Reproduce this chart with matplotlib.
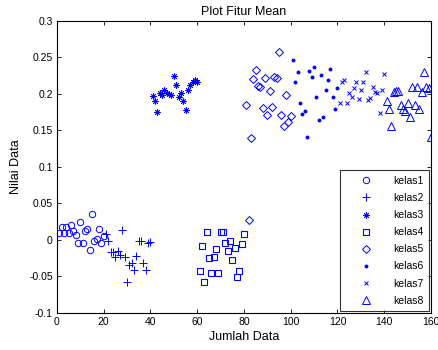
import numpy as np
import matplotlib
matplotlib.use("Agg")
import matplotlib.pyplot as plt

plt.rcParams['font.family'] = ['Liberation Sans', 'DejaVu Sans']

# nilai fitur mean per kelas (20 data per kelas, urut menurut nomor data)
kelas1 = [0.009, 0.018, 0.009, 0.018, 0.009, 0.021, 0.012, 0.007, -0.004, 0.024,
          -0.004, 0.012, 0.015, -0.014, 0.035, -0.002, 0.001, 0.015, -0.004, 0.005]
kelas2 = [0.008, -0.001, -0.016, -0.017, -0.023, -0.015, -0.021, 0.014, -0.023, -0.058,
          -0.034, -0.032, -0.041, -0.022, -0.002, -0.001, -0.032, -0.041, -0.004, -0.003]
kelas3 = [0.197, 0.190, 0.175, 0.201, 0.198, 0.205, 0.202, 0.200, 0.199, 0.224,
          0.212, 0.196, 0.201, 0.190, 0.178, 0.206, 0.212, 0.216, 0.219, 0.217]
kelas4 = [-0.043, -0.009, -0.058, 0.011, -0.025, -0.045, -0.023, -0.013, -0.046, 0.011,
          0.011, -0.004, -0.015, -0.001, -0.027, -0.011, -0.051, -0.043, -0.005, 0.008]
kelas5 = [0.185, 0.027, 0.140, 0.220, 0.233, 0.211, 0.209, 0.181, 0.222, 0.171,
          0.204, 0.182, 0.223, 0.222, 0.257, 0.171, 0.156, 0.199, 0.161, 0.170]
kelas6 = [0.246, 0.216, 0.230, 0.188, 0.172, 0.176, 0.141, 0.232, 0.223, 0.237,
          0.196, 0.164, 0.226, 0.169, 0.206, 0.219, 0.234, 0.196, 0.179, 0.208]
kelas7 = [0.187, 0.216, 0.219, 0.187, 0.202, 0.196, 0.208, 0.216, 0.193, 0.206,
          0.216, 0.230, 0.192, 0.194, 0.209, 0.203, 0.202, 0.174, 0.206, 0.228]
kelas8 = [0.190, 0.180, 0.156, 0.203, 0.204, 0.204, 0.185, 0.180, 0.177, 0.187,
          0.168, 0.209, 0.185, 0.209, 0.179, 0.203, 0.230, 0.209, 0.208, 0.141]

semua_kelas = [kelas1, kelas2, kelas3, kelas4, kelas5, kelas6, kelas7, kelas8]
nama_kelas = ['kelas1', 'kelas2', 'kelas3', 'kelas4',
              'kelas5', 'kelas6', 'kelas7', 'kelas8']

xticks = [0, 20, 40, 60, 80, 100, 120, 140, 160]
yticks = [-0.1, -0.05, 0, 0.05, 0.1, 0.15, 0.2, 0.25, 0.3]
ytick_labels = ['-0.1', '-0.05', '0', '0.05', '0.1', '0.15', '0.2', '0.25', '0.3']

# gaya marker ala matlab: o + * s d . x ^
gaya = [
    dict(marker='o', ms=4.6, mfc='none', mew=0.7),
    dict(marker='+', ms=5.5, mew=0.7),
    dict(marker=(8, 2, 0), ms=4.4, mew=0.6),
    dict(marker='s', ms=4.6, mfc='none', mew=0.8),
    dict(marker='D', ms=4.0, mfc='none', mew=0.7),
    dict(marker='o', ms=2.8, mew=0),
    dict(marker='x', ms=3.0, mew=0.7),
    dict(marker='^', ms=5.8, mfc='none', mew=0.7),
]

fig = plt.figure(figsize=(4.38, 3.5), dpi=100)
ax = fig.add_axes([0.130, 0.106, 0.854, 0.834])

mulai = 1
for vals, nama, g in zip(semua_kelas, nama_kelas, gaya):
    x = np.arange(mulai, mulai + len(vals))
    ax.plot(x, vals, linestyle='none', color='blue', label=nama, **g)
    mulai += len(vals)

ax.set_xlim(0, 160)
ax.set_ylim(-0.1, 0.3)
ax.set_xticks(xticks)
ax.set_yticks(yticks)
ax.set_yticklabels(ytick_labels)
ax.tick_params(direction='in', length=3, width=0.6, labelsize=7.5,
               top=True, right=True, pad=3)
for s in ax.spines.values():
    s.set_linewidth(0.8)

ax.set_title('Plot Fitur Mean', fontsize=9, pad=4)
ax.set_xlabel('Jumlah Data', fontsize=9, labelpad=3)
ax.set_ylabel('Nilai Data', fontsize=9, labelpad=5)

leg = ax.legend(loc='lower right', fontsize=7.5, frameon=True, fancybox=False,
                borderaxespad=0.15, handletextpad=0.6, labelspacing=0.68,
                handlelength=4.0, borderpad=0.55)
leg.get_frame().set_edgecolor('black')
leg.get_frame().set_linewidth(0.8)

fig.savefig('out.png', dpi=100)
